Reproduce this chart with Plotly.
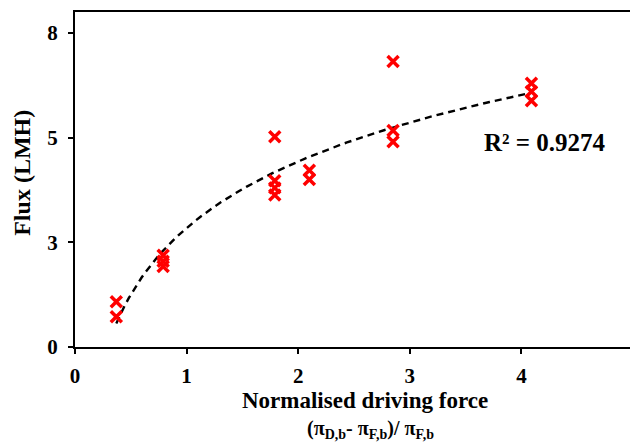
import numpy as np
import plotly.graph_objects as go

# Data
force = [0.37, 0.37, 0.79, 0.79, 0.79, 1.79, 1.79, 1.79, 1.79,
         2.10, 2.10, 2.85, 2.85, 2.85, 4.09, 4.09, 4.09]
flux = [1.08, 0.72, 2.19, 2.05, 1.92, 5.02, 3.97, 3.80, 3.63,
        4.22, 4.00, 6.82, 5.17, 4.90, 6.30, 6.10, 5.88]

y_tickvals = [0, 2.5, 5, 7.5]
y_ticktext = ["0", "3", "5", "8"]
x_tickvals = [0, 1, 2, 3, 4, 5]
r2_label = "R² = 0.9274"

# Logarithmic trendline fitted to the data (as Excel does)
xs = np.array(force)
a, b = np.polyfit(np.log(xs), np.array(flux), 1)
xfit = np.linspace(xs.min(), xs.max(), 100)
yfit = a * np.log(xfit) + b

font_family = "Liberation Serif"

fig = go.Figure()
fig.add_trace(go.Scatter(x=xfit, y=yfit, mode="lines",
                         line=dict(color="black", width=2.4, dash="7px,5px"),
                         hoverinfo="skip", showlegend=False))
fig.add_trace(go.Scatter(x=force, y=flux, mode="markers",
                         marker=dict(symbol="x-thin-open", size=11,
                                     color="#ff0000",
                                     line=dict(color="#ff0000", width=3.5)),
                         showlegend=False))

# the page body adds an 8px margin, so the figure is sized to fit the window
fig.update_layout(
    width=630, height=435,
    margin=dict(l=67, r=5, t=4, b=96),
    paper_bgcolor="white", plot_bgcolor="white",
    font=dict(family=font_family, color="black", size=16),
    xaxis=dict(range=[0, 5], tickvals=x_tickvals, showgrid=False, zeroline=False,
               automargin=False, ticklabelstandoff=4,
               showline=True, linecolor="black", linewidth=2, mirror=True,
               ticks="outside", ticklen=5, tickwidth=1.5, tickcolor="black",
               tickfont=dict(family=font_family, size=21, color="black", weight="bold")),
    yaxis=dict(range=[0, 8], tickvals=y_tickvals, ticktext=y_ticktext,
               showgrid=False, zeroline=False, automargin=False, ticklabelstandoff=6,
               showline=True, linecolor="black", linewidth=2, mirror=True,
               ticks="outside", ticklen=5, tickwidth=1.5, tickcolor="black",
               tickfont=dict(family=font_family, size=21, color="black", weight="bold")),
    annotations=[
        dict(text="<b>Flux (LMH)</b>", xref="paper", yref="paper",
             x=-0.095, y=0.52, xanchor="center", yanchor="middle", textangle=-90,
             showarrow=False, font=dict(size=24, family=font_family)),
        dict(text="<b>Normalised driving force</b>", xref="paper", yref="paper",
             x=0.52, y=-0.16, xanchor="center", yanchor="middle", showarrow=False,
             font=dict(size=23, family=font_family)),
        dict(text="<b>(π<sub>D,b</sub>- π<sub>F,b</sub>)/ π<sub>F,b</sub></b>",
             xref="paper", yref="paper",
             x=0.53, y=-0.245, xanchor="center", yanchor="middle", showarrow=False,
             font=dict(size=20, family=font_family)),
        dict(text="<b>" + r2_label + "</b>", xref="paper", yref="paper",
             x=0.843, y=0.61, xanchor="center", yanchor="middle", showarrow=False,
             font=dict(size=25, family=font_family)),
    ],
)

fig.write_html("out.html")
